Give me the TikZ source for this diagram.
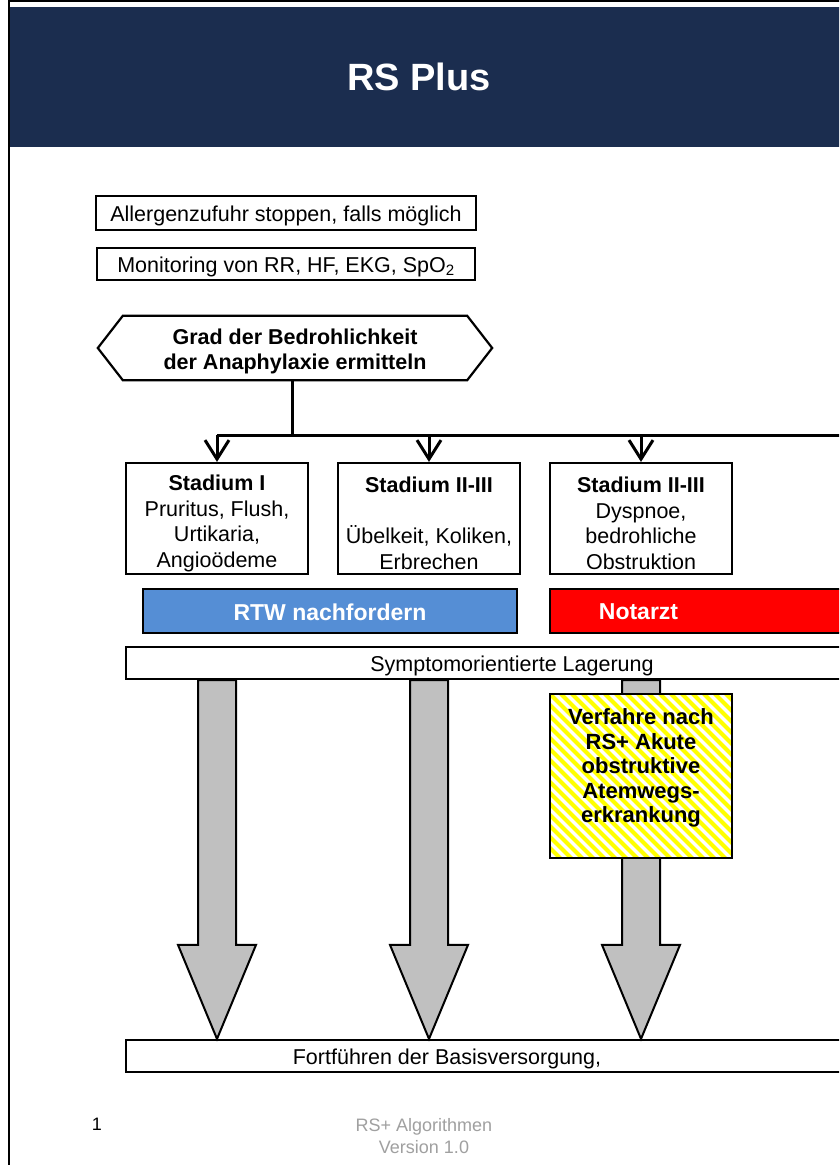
\documentclass[tikz,border=0pt]{standalone}
\usepackage{fontspec}
\setmainfont{Liberation Sans}
\usetikzlibrary{arrows.meta,calc}
\definecolor{hdrblue}{HTML}{1B2D4F}
\definecolor{rtwblue}{HTML}{558ED5}
\definecolor{arrgray}{HTML}{C0C0C0}
\definecolor{footgray}{HTML}{A0A0A0}
\definecolor{stripey}{HTML}{FFFF00}
\begin{document}
\begin{tikzpicture}[x=1pt,y=-1pt,
  box/.style={draw=black, line width=2.2pt, fill=white, inner sep=0pt, align=center,
    font=\fontsize{21.5}{25.5}\selectfont},
  onebox/.style={box, text height=21pt, text depth=4pt},
  plain/.style={inner sep=0pt, align=center, font=\fontsize{21.5}{25.6}\selectfont},
  boldtxt/.style={inner sep=0pt, align=center, font=\fontsize{21.5}{25}\selectfont\bfseries},
  callbox/.style={draw=black, line width=2.2pt, inner sep=0pt},
  calltxt/.style={inner sep=0pt, text=white, font=\fontsize{23}{27}\selectfont\bfseries},
  bus/.style={line width=3pt},
  busarrow/.style={line width=3pt, -{Straight Barb[length=19pt,width=24pt,line width=3pt]}},
  garrow/.style={draw=black, line width=2pt, fill=arrgray, line join=miter},
  foot/.style={inner sep=0pt, align=center, text=footgray, font=\fontsize{18}{21.5}\selectfont}]
\useasboundingbox (0,0) rectangle (839,1165);
\clip (0,0) rectangle (839,1165);
\fill[white] (0,0) rectangle (839,1165);
% frame and header
\draw[line width=2.5pt] (9,1165) -- (9,1.2) -- (850,1.2);
\node[fill=hdrblue, inner sep=0pt, minimum width=840pt, minimum height=140pt] (hdr) at (430,77) {};
\node[inner sep=0pt, text=white, font=\fontsize{38}{44}\selectfont\bfseries] (title) at (419,77) {RS Plus};
% top boxes
\node[onebox, minimum width=380pt, minimum height=34pt] (b1) at (286,213) {Allergenzufuhr stoppen, falls möglich};
\node[onebox, minimum width=378pt, minimum height=32pt] (b2) at (286,264) {Monitoring von RR, HF, EKG, SpO\textsubscript{2}};
% hexagon
\node[inner sep=0pt, minimum width=344pt, minimum height=64pt] (hex) at (295,348) {};
\draw[line width=2.2pt, line join=miter] (hex.north west) -- (hex.north east) -- ($(hex.east)+(25,0)$) -- (hex.south east) -- (hex.south west) -- ($(hex.west)+(-25,0)$) -- cycle;
\node[boldtxt] (hext) at (295,351) {Grad der Bedrohlichkeit\\der Anaphylaxie ermitteln};
% stadium boxes
\node[box, minimum width=182pt, minimum height=111pt] (s1) at (217,518.5) {};
\node[box, minimum width=182pt, minimum height=111pt] (s2) at (429,518.5) {};
\node[box, minimum width=182pt, minimum height=111pt] (s3) at (641,518.5) {};
\node[plain] (s1t) at (217,523.5) {\textbf{Stadium I}\\Pruritus, Flush,\\Urtikaria,\\Angioödeme};
\node[plain] (s2t) at (429,523.5) {\textbf{Stadium II-III}\\\mbox{}\\Übelkeit, Koliken,\\Erbrechen};
\node[plain] (s3t) at (641,523.5) {\textbf{Stadium II-III}\\Dyspnoe,\\bedrohliche\\Obstruktion};
% bus
\coordinate (j) at (292,435);
\coordinate (busend) at (860,435);
\draw[bus] (hex.south -| j) -- (j);
\draw[bus] (s1.north |- j) -- (busend);
\foreach \s in {s1,s2,s3} \draw[busarrow] (\s.north |- j) -- (\s.north);
% call boxes
\node[callbox, fill=rtwblue, minimum width=374pt, minimum height=44pt] (rtw) at (330,611) {};
\node[calltxt] (rtwt) at (330,612) {RTW nachfordern};
\node[callbox, fill=red, minimum width=350pt, minimum height=44pt] (nota) at (725,611) {};
\node[calltxt] (notat) at (638.5,612) {Notarzt};
% Lagerung and Fortfuehren
\node[onebox, minimum width=772pt, minimum height=32pt] (lag) at (512,663) {Symptomorientierte Lagerung};
\node[box, minimum width=774pt, minimum height=32pt] (fort) at (513,1056) {};
\node[plain, text height=21pt, text depth=4pt] (fortt) at (447,1056) {Fortführen der Basisversorgung,};
% gray block arrows
\foreach \s in {s1,s2,s3} {
  \path (lag.south -| \s.south) coordinate (atop) (fort.north -| \s.south) coordinate (atip);
  \draw[garrow] ($(atop)+(-19,0)$) -- ($(atop)+(19,0)$) -- ($(atip)+(19,-94)$) -- ($(atip)+(39,-94)$) -- (atip) -- ($(atip)+(-39,-94)$) -- ($(atip)+(-19,-94)$) -- cycle;
}
% striped box
\node[inner sep=0pt, fill=white, minimum width=182pt, minimum height=164pt] (vf) at (641,776) {};
\begin{scope}
  \clip (vf.north west) rectangle (vf.south east);
  \foreach \t in {-176,-165,...,190}
    \draw[stripey, line width=4pt] ($(vf.north west)+(\t,0)$) -- ++(200,200);
\end{scope}
\draw[line width=2.2pt] (vf.north west) rectangle (vf.south east);
\node[inner sep=0pt, align=center, font=\fontsize{22}{24.5}\selectfont\bfseries] (vft) at (641,768) {Verfahre nach\\RS+ Akute\\obstruktive\\Atemwegs-\\erkrankung};
% footer
\node[inner sep=0pt, font=\fontsize{18}{21}\selectfont] (pnum) at (97,1124) {1};
\node[foot] (ver) at (424,1136) {RS+ Algorithmen\\Version 1.0};
\end{tikzpicture}
\end{document}
